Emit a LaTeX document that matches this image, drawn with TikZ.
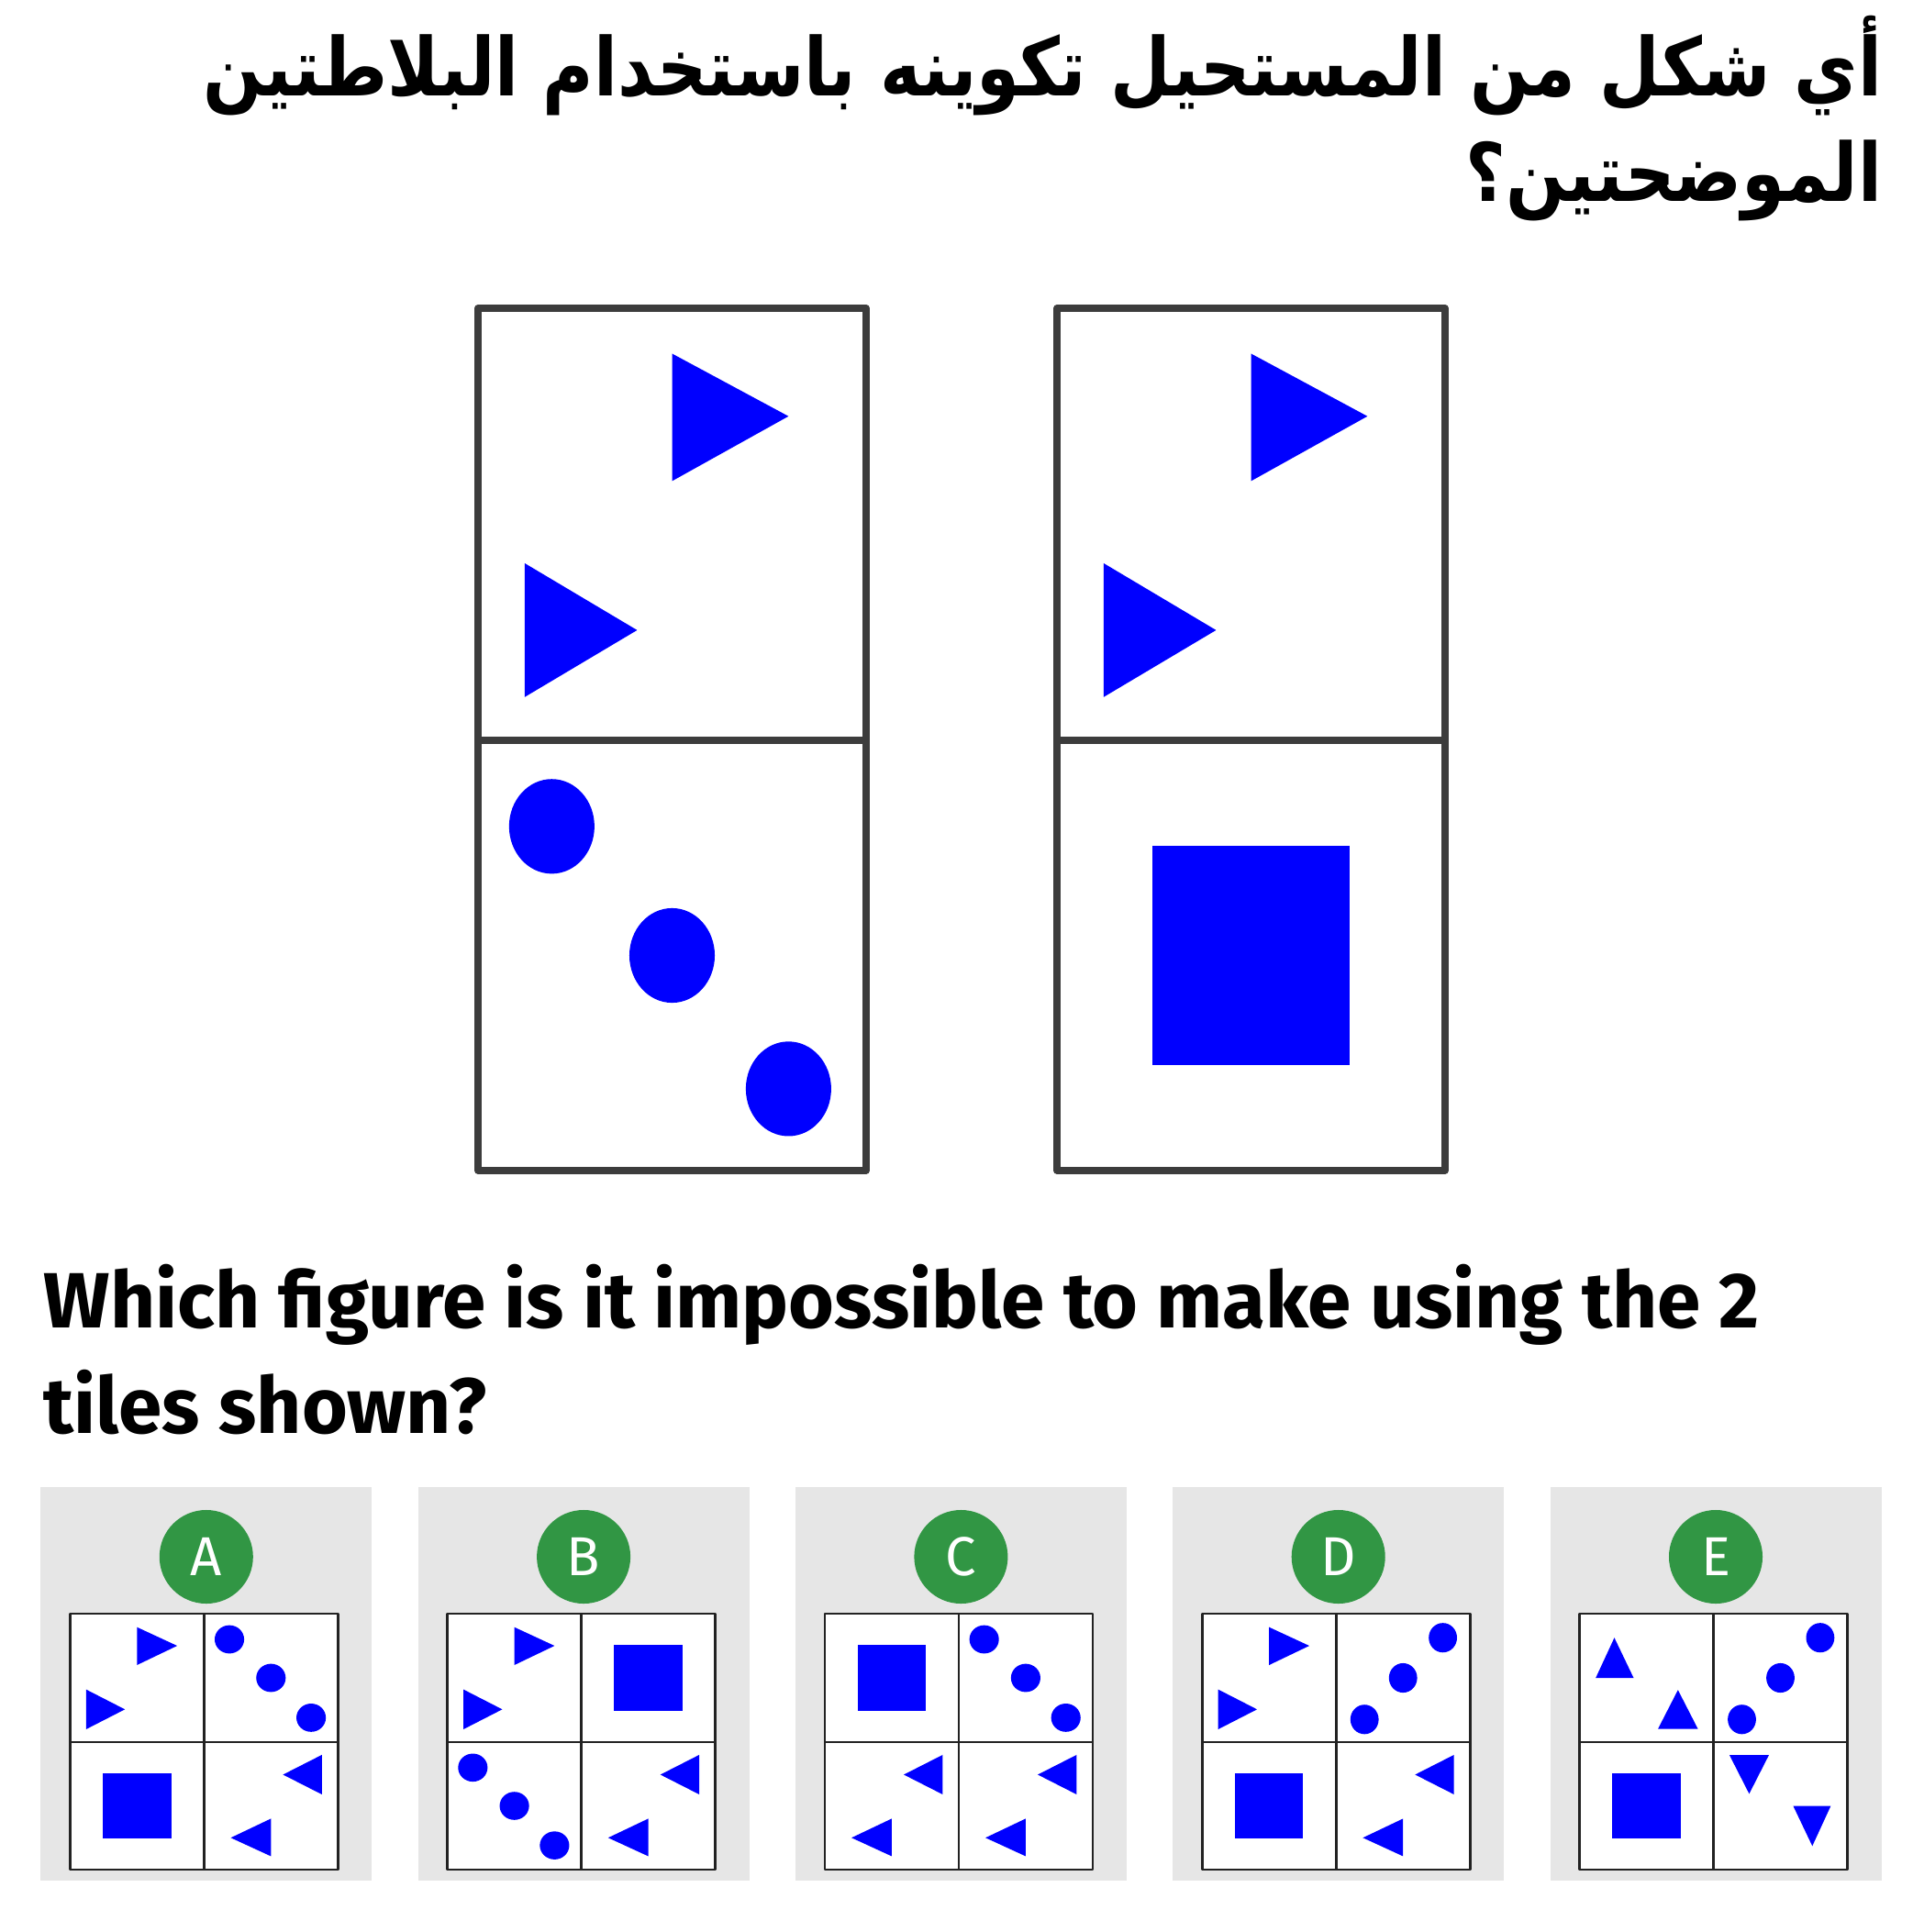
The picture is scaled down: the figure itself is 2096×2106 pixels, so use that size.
\documentclass[tikz,border=0pt]{standalone}
\usepackage{fontspec}
\setmainfont{Fira Sans}
\newfontfamily\arabicfont[Script=Arabic]{DejaVu Sans}
\TeXXeTstate=1
\definecolor{tileblue}{RGB}{0,0,255}
\definecolor{tileline}{RGB}{60,60,60}
\definecolor{gridblack}{RGB}{34,34,34}
\definecolor{panelgray}{RGB}{230,230,230}
\definecolor{badgegreen}{RGB}{49,150,68}
\newcommand{\tris}{\fill[tileblue] (0.50,0.105)--(0.50,0.40)--(0.80,0.25)--cycle
  (0.12,0.59)--(0.12,0.90)--(0.41,0.745)--cycle;}
\newcommand{\ovals}{\foreach \u/\v in {0.19/0.20,0.50/0.50,0.80/0.81}
  \fill[tileblue] (\u,\v) circle[radius=0.11];}
\newcommand{\blocksq}{\fill[tileblue] (0.245,0.245) rectangle (0.755,0.755);}
\newcommand{\tilecell}[6]{%
  \begin{scope}[shift={(#1,#2)},x={(#3,0)},y={(0,#4)}]
  \begin{scope}[rotate around={#5:(0.5,0.5)}]
  #6
  \end{scope}
  \end{scope}}
\begin{document}
\begin{tikzpicture}[x=0.01cm,y=-0.01cm,line join=round,
  tileframe/.style={draw=tileline,line width=2.2pt,line cap=round},
  gridline/.style={draw=gridblack,line width=0.8pt},
  badge/.style={circle,fill=badgegreen,text=white,minimum size=1.02cm,inner sep=0pt,
    font=\fontsize{17}{17}\selectfont},
  question/.style={anchor=base west,inner sep=0pt,font=\bfseries\fontsize{24.3}{24.3}\selectfont},
  arabicline/.style={anchor=base east,inner sep=0pt,font=\fontsize{25}{25}\selectfont}]
\useasboundingbox (0,0) rectangle (2096,2106);

\node[arabicline] (qar1) at (2052,105)
  {\scalebox{0.86}[1]{\arabicfont\bfseries\beginR أي شكل من المستحيل تكوينه باستخدام البلاطتين\endR}};
\node[arabicline] (qar2) at (2052,219)
  {\scalebox{0.86}[1]{\arabicfont\bfseries\beginR الموضحتين؟\endR}};

\tilecell{521}{336}{423}{471}{0}{\tris}
\tilecell{521}{807}{423}{469}{0}{\ovals}
\tilecell{1152}{336}{423}{471}{0}{\tris}
\tilecell{1152}{807}{423}{469}{0}{\blocksq}
\foreach \tx in {521,1152}
{
\draw[tileframe] (\tx,336) rectangle ++(423,940);
\draw[tileframe] (\tx,807)--++(423,0);
}

\node[question] (qen1) at (47,1447) {Which figure is it impossible to make using the 2};
\node[question] (qen2) at (47,1562) {tiles shown?};

\foreach \i/\lab/\ca/\ra/\cb/\rb/\cc/\rc/\cd/\rd in {
  0/A/\tris/0/\ovals/0/\blocksq/0/\tris/180,
  1/B/\tris/0/\blocksq/0/\ovals/0/\tris/180,
  2/C/\blocksq/0/\ovals/0/\tris/180/\tris/180,
  3/D/\tris/0/\ovals/90/\blocksq/0/\tris/180,
  4/E/\tris/90/\ovals/90/\blocksq/0/\tris/-90}
{
\pgfmathsetmacro\px{44.3+411.3*\i}
\fill[panelgray] (\px,1621) rectangle ++(361,429);
\node[badge] (opt\lab) at (\px+180.5,1697) {\lab};
\fill[white] (\px+32,1759) rectangle ++(292,279);
\tilecell{\px+32}{1759}{146}{140}{\ra}{\ca}
\tilecell{\px+178}{1759}{146}{140}{\rb}{\cb}
\tilecell{\px+32}{1899}{146}{139}{\rc}{\cc}
\tilecell{\px+178}{1899}{146}{139}{\rd}{\cd}
\draw[gridline] (\px+32,1759) rectangle ++(292,279);
\draw[gridline] (\px+178,1759)--++(0,279) (\px+32,1899)--++(292,0);
}
\end{tikzpicture}
\end{document}
